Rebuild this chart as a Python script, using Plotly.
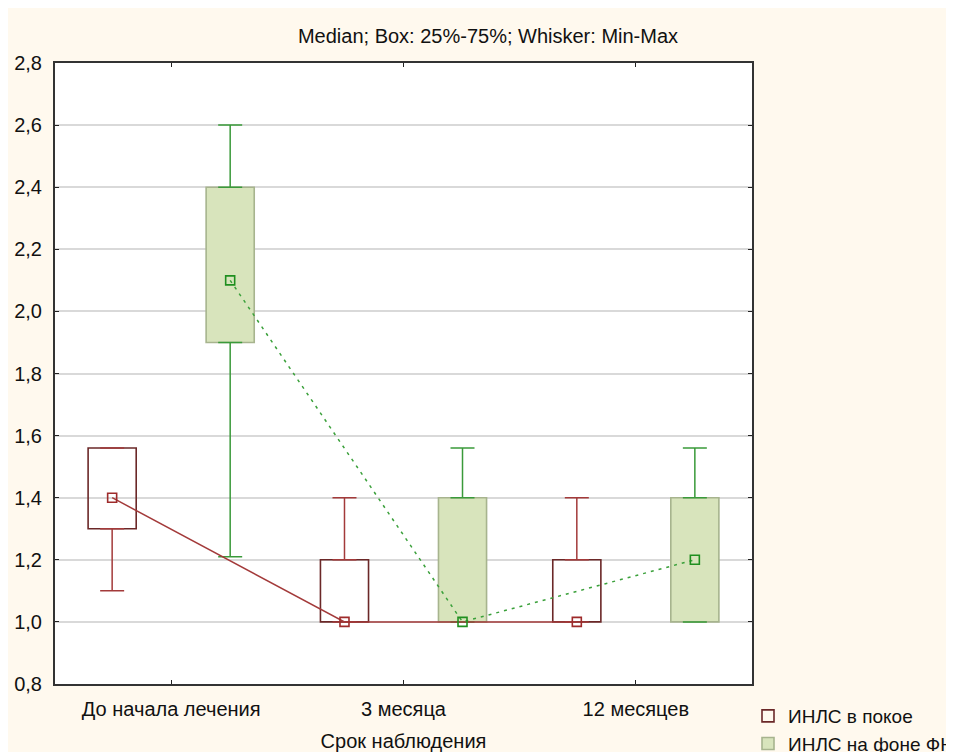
import plotly.graph_objects as go

categories = ["До начала лечения", "3 месяца", "12 месяцев"]
series_names = ["ИНЛС в покое", "ИНЛС на фоне ФН"]

rest_min = [1.1, 1.0, 1.0]
rest_q1 = [1.3, 1.0, 1.0]
rest_median = [1.4, 1.0, 1.0]
rest_q3 = [1.56, 1.2, 1.2]
rest_max = [1.56, 1.4, 1.4]

load_min = [1.21, 1.0, 1.0]
load_q1 = [1.9, 1.0, 1.0]
load_median = [2.1, 1.0, 1.2]
load_q3 = [2.4, 1.4, 1.4]
load_max = [2.6, 1.56, 1.56]

y_ticks = [0.8, 1.0, 1.2, 1.4, 1.6, 1.8, 2.0, 2.2, 2.4, 2.6, 2.8]

FONT = "Liberation Sans, Arial, sans-serif"
BG = "#FFF9EE"
W, H = 946, 744

styles = [
    dict(fill="rgba(255,255,255,0)", border="#6B2828", whisker="#A33A3A",
         marker="#9E2B2B", line="#A33A3A", dash="solid", offset=-0.254),
    dict(fill="#D8E4BC", border="#A7B48E", whisker="#3A9A3A",
         marker="#1F8F1F", line="#3AA03A", dash="3px,5px", offset=0.254),
]
data = [
    (rest_min, rest_q1, rest_median, rest_q3, rest_max),
    (load_min, load_q1, load_median, load_q3, load_max),
]

fig = go.Figure()
idx = list(range(len(categories)))
for name, st, (mn, q1, med, q3, mx) in zip(series_names, styles, data):
    xs = [i + st["offset"] for i in idx]
    fig.add_trace(go.Bar(
        x=xs, y=[b - a for a, b in zip(q1, q3)], base=q1, width=0.207,
        marker=dict(color=st["fill"], line=dict(color=st["border"], width=1.6)),
        name=name, showlegend=True, hoverinfo="skip",
    ))
    fig.add_trace(go.Scatter(
        x=xs, y=q3, mode="markers", marker=dict(size=1, color="rgba(0,0,0,0)"),
        error_y=dict(type="data", symmetric=False,
                     array=[b - a for a, b in zip(q3, mx)], arrayminus=[0] * 3,
                     color=st["whisker"], thickness=1.5, width=12),
        showlegend=False, hoverinfo="skip",
    ))
    fig.add_trace(go.Scatter(
        x=xs, y=q1, mode="markers", marker=dict(size=1, color="rgba(0,0,0,0)"),
        error_y=dict(type="data", symmetric=False,
                     array=[0] * 3, arrayminus=[a - b for a, b in zip(q1, mn)],
                     color=st["whisker"], thickness=1.5, width=12),
        showlegend=False, hoverinfo="skip",
    ))

for name, st, (mn, q1, med, q3, mx) in zip(series_names, styles, data):
    xs = [i + st["offset"] for i in idx]
    fig.add_trace(go.Scatter(
        x=xs, y=med, mode="lines+markers",
        line=dict(color=st["line"], width=1.5, dash=st["dash"]),
        marker=dict(symbol="square-open", size=9, color=st["marker"],
                    line=dict(width=1.6, color=st["marker"])),
        showlegend=False, name=name,
    ))

fig.update_layout(
    width=W, height=H,
    paper_bgcolor=BG, plot_bgcolor="white",
    margin=dict(l=47, r=W - 744, t=55, b=68, autoexpand=False),
    separators=", ",
    font=dict(family=FONT, size=20, color="#111111"),
    title=dict(text="Median; Box: 25%-75%; Whisker: Min-Max",
               x=480 / W, xanchor="center", y=1 - 28 / H, yanchor="middle",
               font=dict(family=FONT, size=20, color="#111111")),
    barmode="overlay",
    showlegend=True,
    legend=dict(xref="container", yref="container", x=740 / W, y=1 - 689 / H,
                xanchor="left", yanchor="top", bgcolor="rgba(0,0,0,0)",
                font=dict(family=FONT, size=19, color="#111111"),
                tracegroupgap=0, itemwidth=30),
)
fig.update_xaxes(
    range=[-0.5, 2.5], tickvals=idx, ticktext=categories,
    ticks="inside", ticklen=4, tickcolor="#222222", tickwidth=1,
    showline=True, linecolor="#333333", linewidth=2, mirror="ticks",
    showgrid=False, zeroline=False, ticklabelstandoff=6,
    title=dict(text="Срок наблюдения", standoff=16,
               font=dict(family=FONT, size=20, color="#111111")),
)
fig.update_yaxes(
    range=[0.8, 2.8], tickvals=y_ticks, tickformat=".1f",
    ticks="inside", ticklen=4, tickcolor="#222222", tickwidth=1,
    showline=True, linecolor="#333333", linewidth=2, mirror="ticks",
    showgrid=True, gridcolor="#D9D9D9", gridwidth=1.5, zeroline=False,
    ticklabelstandoff=7,
)

fig.write_html("out.html")
